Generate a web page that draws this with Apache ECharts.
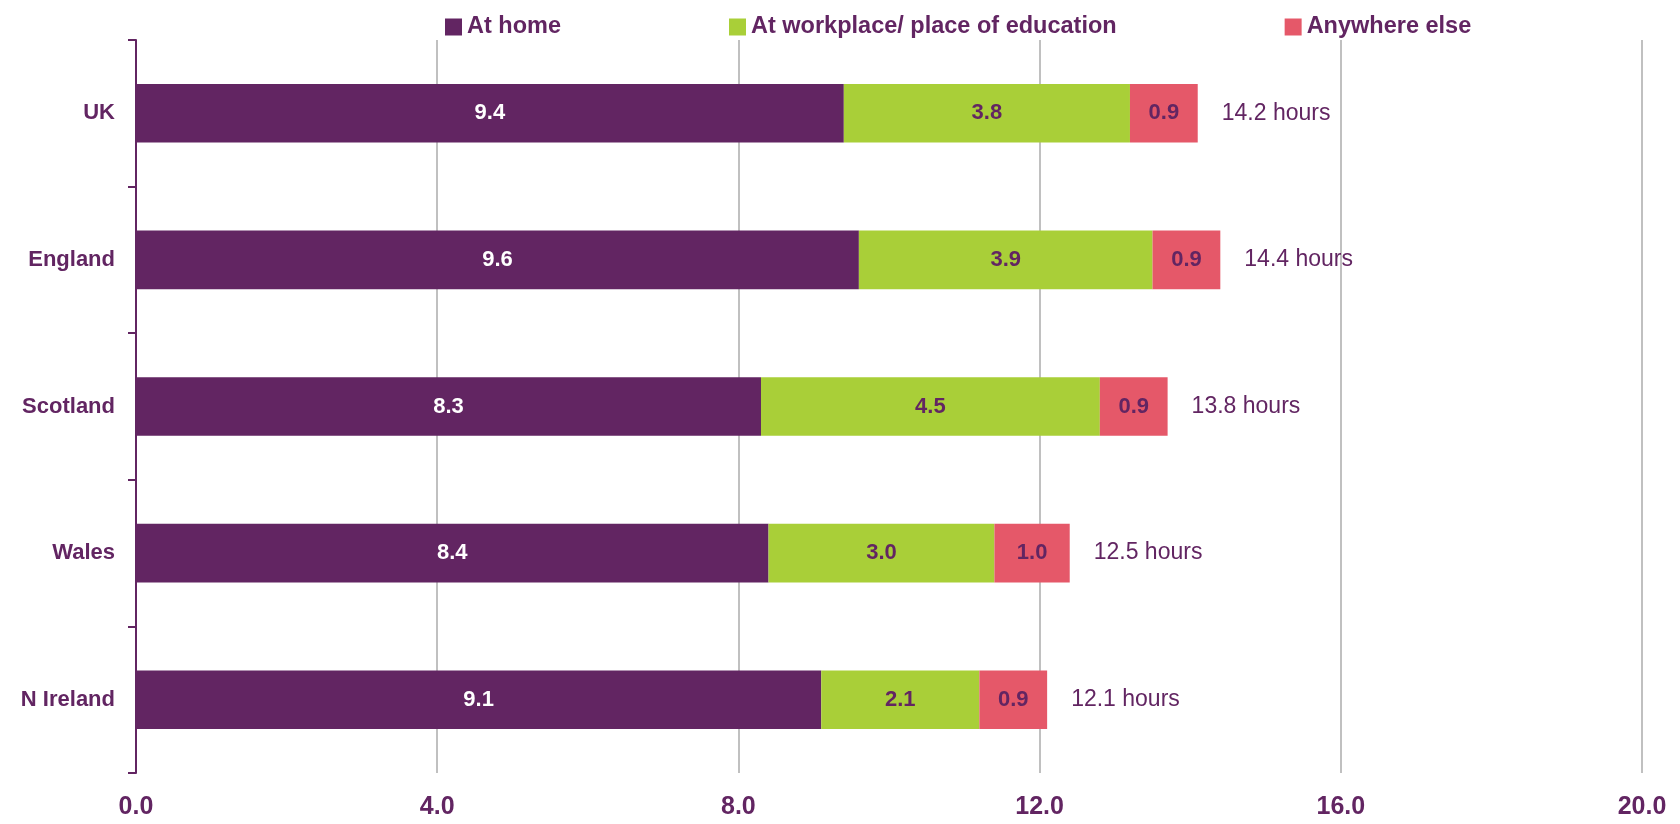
<!DOCTYPE html>
<html>
<head>
<meta charset="utf-8">
<script src="https://cdn.jsdelivr.net/npm/echarts@6/dist/echarts.min.js"></script>
<style>
    html, body { margin: 0; padding: 0; background: #fff; }
    #chart { width: 1680px; height: 824px; }
</style>
</head>
<body>
<div id="chart"></div>
<script>
const regions = ['UK', 'England', 'Scotland', 'Wales', 'N Ireland'];
const atHome = [9.4, 9.6, 8.3, 8.4, 9.1];
const atWork = [3.8, 3.9, 4.5, 3.0, 2.1];
const elsewhere = [0.9, 0.9, 0.9, 1.0, 0.9];
const totals = [14.2, 14.4, 13.8, 12.5, 12.1];
const xTicks = [0, 4, 8, 12, 16, 20];

const purple = '#622562';
const fontFamily = 'Liberation Sans, Arial, sans-serif';

const barLabel = (color) => ({
    show: true,
    position: 'inside',
    color: color,
    fontSize: 22,
    fontWeight: 'bold',
    fontFamily: fontFamily,
    formatter: (p) => p.value.toFixed(1)
});

const chart = echarts.init(document.getElementById('chart'));
const option = {
    animation: false,
    textStyle: { fontFamily: fontFamily },
    legend: {
        data: ['At home', 'At workplace/ place of education', 'Anywhere else'],
        top: 10,
        left: 440,
        itemGap: 168,
        itemWidth: 17,
        itemHeight: 17,
        icon: 'rect',
        textStyle: { color: purple, fontSize: 23.5, fontWeight: 'bold', fontFamily: fontFamily }
    },
    grid: { left: 136, right: 38, top: 40, bottom: 51 },
    xAxis: {
        type: 'value',
        min: xTicks[0],
        max: xTicks[xTicks.length - 1],
        interval: 4,
        axisLine: { show: false },
        axisTick: { show: false },
        axisLabel: {
            color: purple,
            fontSize: 25,
            fontWeight: 'bold',
            margin: 22,
            formatter: (v) => v.toFixed(1)
        },
        splitLine: { lineStyle: { color: '#c0c0c0', width: 2 } }
    },
    yAxis: {
        type: 'category',
        data: regions,
        inverse: true,
        axisLine: { lineStyle: { color: purple, width: 2 } },
        axisTick: { show: true, length: 8, lineStyle: { color: purple, width: 2 } },
        axisLabel: { color: purple, fontSize: 22, fontWeight: 'bold', margin: 21 }
    },
    series: [
        {
            name: 'At home',
            type: 'bar',
            stack: 'total',
            barWidth: '40%',
            itemStyle: { color: purple },
            label: barLabel('#ffffff'),
            data: atHome
        },
        {
            name: 'At workplace/ place of education',
            type: 'bar',
            stack: 'total',
            itemStyle: { color: '#a9cf38' },
            label: barLabel(purple),
            data: atWork
        },
        {
            name: 'Anywhere else',
            type: 'bar',
            stack: 'total',
            itemStyle: { color: '#e55869' },
            label: barLabel(purple),
            data: elsewhere
        },
        {
            name: 'total',
            type: 'bar',
            stack: 'total',
            itemStyle: { color: 'transparent' },
            label: {
                show: true,
                position: 'right',
                distance: 24,
                color: purple,
                fontSize: 23,
                fontFamily: fontFamily,
                formatter: (p) => totals[p.dataIndex].toFixed(1) + ' hours'
            },
            data: totals.map(() => 0)
        }
    ]
};
chart.setOption(option);
</script>
</body>
</html>
